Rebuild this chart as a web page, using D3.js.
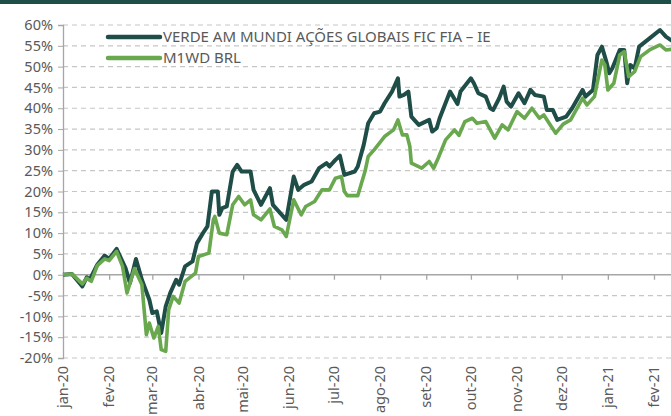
<!DOCTYPE html>
<html><head><meta charset="utf-8">
<script src="https://cdn.jsdelivr.net/npm/d3@7"></script>
<style>
html,body{margin:0;padding:0;background:#fff;}
svg{display:block;}
text{font-family:"Noto Sans",sans-serif;fill:#595959;}
</style></head>
<body>
<svg id="chart" width="671" height="416"></svg>
<script>
const seriesNames = ["VERDE AM MUNDI AÇÕES GLOBAIS FIC FIA – IE", "M1WD BRL"];
const monthLabels = ["jan-20","fev-20","mar-20","abr-20","mai-20","jun-20","jul-20","ago-20","set-20","out-20","nov-20","dez-20","jan-21","fev-21"];
const yTicks = [-20,-15,-10,-5,0,5,10,15,20,25,30,35,40,45,50,55,60];

const verdeDates = ["2020-01-01","2020-01-07","2020-01-14","2020-01-17","2020-01-19","2020-01-24","2020-01-29","2020-02-01","2020-02-06","2020-02-12","2020-02-15","2020-02-19","2020-02-23","2020-02-28","2020-03-01","2020-03-04","2020-03-07","2020-03-10","2020-03-13","2020-03-17","2020-03-19","2020-03-23","2020-03-28","2020-03-31","2020-04-04","2020-04-07","2020-04-10","2020-04-14","2020-04-15","2020-04-17","2020-04-20","2020-04-24","2020-04-27","2020-04-30","2020-05-06","2020-05-08","2020-05-13","2020-05-19","2020-05-21","2020-05-24","2020-05-30","2020-06-04","2020-06-07","2020-06-11","2020-06-16","2020-06-21","2020-06-26","2020-06-28","2020-07-02","2020-07-05","2020-07-08","2020-07-15","2020-07-17","2020-07-21","2020-07-24","2020-07-28","2020-08-01","2020-08-04","2020-08-09","2020-08-13","2020-08-14","2020-08-17","2020-08-20","2020-08-22","2020-08-27","2020-09-03","2020-09-05","2020-09-08","2020-09-10","2020-09-17","2020-09-22","2020-09-24","2020-10-01","2020-10-03","2020-10-06","2020-10-11","2020-10-14","2020-10-16","2020-10-20","2020-10-23","2020-10-25","2020-10-28","2020-11-02","2020-11-06","2020-11-10","2020-11-13","2020-11-19","2020-11-21","2020-11-25","2020-11-28","2020-12-04","2020-12-08","2020-12-15","2020-12-17","2020-12-22","2020-12-25","2020-12-28","2020-12-31","2021-01-02","2021-01-04","2021-01-09","2021-01-12","2021-01-14","2021-01-16","2021-01-19","2021-01-22","2021-01-29","2021-02-05","2021-02-09","2021-02-14"];
const verdeValues = [0,0.2,-2.8,-0.6,-1.2,2.4,4.6,3.8,6.2,1.6,-2,3.8,-1.2,-6,-9.2,-8.8,-14,-7.6,-4.4,-1.2,-2.4,2,3.2,7.6,10,11.6,20,20,14.4,16,16.4,24.8,26.4,24.8,24.8,20.4,16.8,20.8,16.8,15.6,13.2,23.6,20.4,21.6,22.4,25.6,26.8,26,27.6,28.6,24,24.8,26,31.2,36.4,38.8,39.2,41.2,44,47.2,42.8,43.2,44,38,36,37.2,34.4,35.2,37.6,44,41,44,47.2,46,43.6,42.8,40,39.6,42.4,45.2,41.6,40.4,43.6,41.2,44.4,43.2,42.8,39.6,39.6,37.2,38,40,44.4,42.8,44.4,52.8,54.8,51.2,48.4,49.6,54,54,46,50.4,49.6,54.8,56.8,58.8,57.2,56];

const m1wdDates = ["2020-01-01","2020-01-07","2020-01-14","2020-01-17","2020-01-20","2020-01-24","2020-01-29","2020-02-01","2020-02-06","2020-02-10","2020-02-13","2020-02-18","2020-02-23","2020-02-26","2020-02-28","2020-03-02","2020-03-05","2020-03-07","2020-03-10","2020-03-12","2020-03-15","2020-03-19","2020-03-23","2020-03-30","2020-04-01","2020-04-08","2020-04-11","2020-04-12","2020-04-15","2020-04-20","2020-04-24","2020-04-28","2020-05-02","2020-05-06","2020-05-08","2020-05-13","2020-05-19","2020-05-22","2020-05-27","2020-05-30","2020-06-04","2020-06-09","2020-06-12","2020-06-18","2020-06-23","2020-06-28","2020-07-02","2020-07-06","2020-07-08","2020-07-10","2020-07-17","2020-07-22","2020-07-24","2020-07-28","2020-08-04","2020-08-10","2020-08-13","2020-08-16","2020-08-19","2020-08-21","2020-08-22","2020-08-29","2020-09-03","2020-09-06","2020-09-09","2020-09-14","2020-09-20","2020-09-23","2020-09-25","2020-09-27","2020-10-02","2020-10-05","2020-10-11","2020-10-17","2020-10-22","2020-10-26","2020-11-01","2020-11-06","2020-11-11","2020-11-16","2020-11-19","2020-11-24","2020-11-27","2020-12-02","2020-12-07","2020-12-15","2020-12-18","2020-12-23","2020-12-28","2020-12-30","2021-01-01","2021-01-05","2021-01-09","2021-01-12","2021-01-15","2021-01-19","2021-01-23","2021-01-29","2021-02-05","2021-02-09","2021-02-14"];
const m1wdValues = [0,0.2,-2.2,-0.8,-1.6,2.2,3.8,3.4,5.6,2,-4.4,1.5,-2.4,-14.4,-11.6,-15.2,-12.4,-18,-18.4,-8.4,-5.2,-6.8,-1.6,0.4,4.4,5.2,13.2,14,10,9.6,16.8,18.8,16.8,18,14.4,13.2,15.8,11.6,10.8,9.2,18,14.4,16.4,17.6,20.4,20.4,23.2,23.6,20,19,19,25,28.4,30,33.2,34.8,37.2,33.6,33.6,30.8,26.8,25.6,27.2,25.6,28,32.4,34.8,33.5,35.2,36.8,37.6,36.4,36.8,32.8,36,34.8,39.2,37.6,40,37.6,38.4,35.6,34,36.2,37.2,42.4,40.8,42.8,51.6,50.4,44.4,46,52.8,53.6,47.6,48.8,52.4,54,55.2,54,54.2];

const colors = ["#1f4d47", "#6aa84f"];

const parse = d3.utcParse("%Y-%m-%d");
const verde = verdeDates.map((d,i)=>({date:parse(d), v:verdeValues[i]}));
const m1wd = m1wdDates.map((d,i)=>({date:parse(d), v:m1wdValues[i]}));
const monthDates = monthLabels.map((_,i)=>new Date(Date.UTC(2020, i, 1)));

const svg = d3.select("#chart");
const W = 671;
const x = d3.scaleUtc().domain([monthDates[0], monthDates[13]]).range([63, 654]);
const y = d3.scaleLinear().domain([-20, 60]).range([358, 25]);
const FONT = '"Noto Sans",sans-serif';

// top band
svg.append("rect").attr("x",0).attr("y",0).attr("width",W).attr("height",4).attr("fill","#1f4d47");

// gridlines
svg.append("g").selectAll("line").data(yTicks.filter(t=>t!==0)).join("line")
  .attr("x1",63).attr("x2",W).attr("y1",d=>y(d)).attr("y2",d=>y(d))
  .attr("stroke","#c6c6c6").attr("stroke-width",1.2).attr("stroke-dasharray","5,4");

// y axis
const ya = svg.append("g").attr("transform","translate(63,0)")
  .call(d3.axisLeft(y).tickValues(yTicks).tickSize(5).tickPadding(5).tickFormat(d=>d+"%"));
ya.select(".domain").attr("stroke","#a6a6a6").attr("stroke-width",1.3);
ya.selectAll(".tick line").attr("stroke","#a6a6a6");
ya.selectAll(".tick text").attr("font-size",14.5).attr("fill","#595959")
  .attr("font-family",FONT);

// x axis at 0%
const xa = svg.append("g").attr("transform",`translate(0,${y(0)})`)
  .call(d3.axisBottom(x).tickValues(monthDates).tickSize(5).tickFormat(""));
xa.select(".domain").remove();
xa.selectAll(".tick line").attr("stroke","#a6a6a6").attr("stroke-width",1.3);
svg.append("line").attr("x1",63).attr("x2",W).attr("y1",y(0)).attr("y2",y(0))
  .attr("stroke","#a6a6a6").attr("stroke-width",1.3);

// x labels
svg.append("g").selectAll("text").data(monthDates).join("text")
  .attr("transform",(d)=>`translate(${x(d)},366) rotate(-90)`)
  .attr("text-anchor","end").attr("dy","0.35em")
  .attr("font-size",14.5).attr("fill","#595959")
  .text((d,i)=>monthLabels[i]);

// lines
const line = d3.line().x(d=>x(d.date)).y(d=>y(d.v));
svg.append("path").datum(verde).attr("d",line).attr("fill","none")
  .attr("stroke",colors[0]).attr("stroke-width",4).attr("stroke-linejoin","round");
svg.append("path").datum(m1wd).attr("d",line).attr("fill","none")
  .attr("stroke",colors[1]).attr("stroke-width",3.6).attr("stroke-linejoin","round");

// legend
const leg = svg.append("g");
seriesNames.forEach((n,i)=>{
  const ly = 37 + i*21;
  leg.append("line").attr("x1",108).attr("x2",160).attr("y1",ly).attr("y2",ly)
    .attr("stroke",colors[i]).attr("stroke-width",4.5).attr("stroke-linecap","round");
  leg.append("text").attr("x",163).attr("y",ly).attr("dy","0.35em")
    .attr("font-size",15).attr("fill","#595959").text(n);
});
</script>
</body></html>
